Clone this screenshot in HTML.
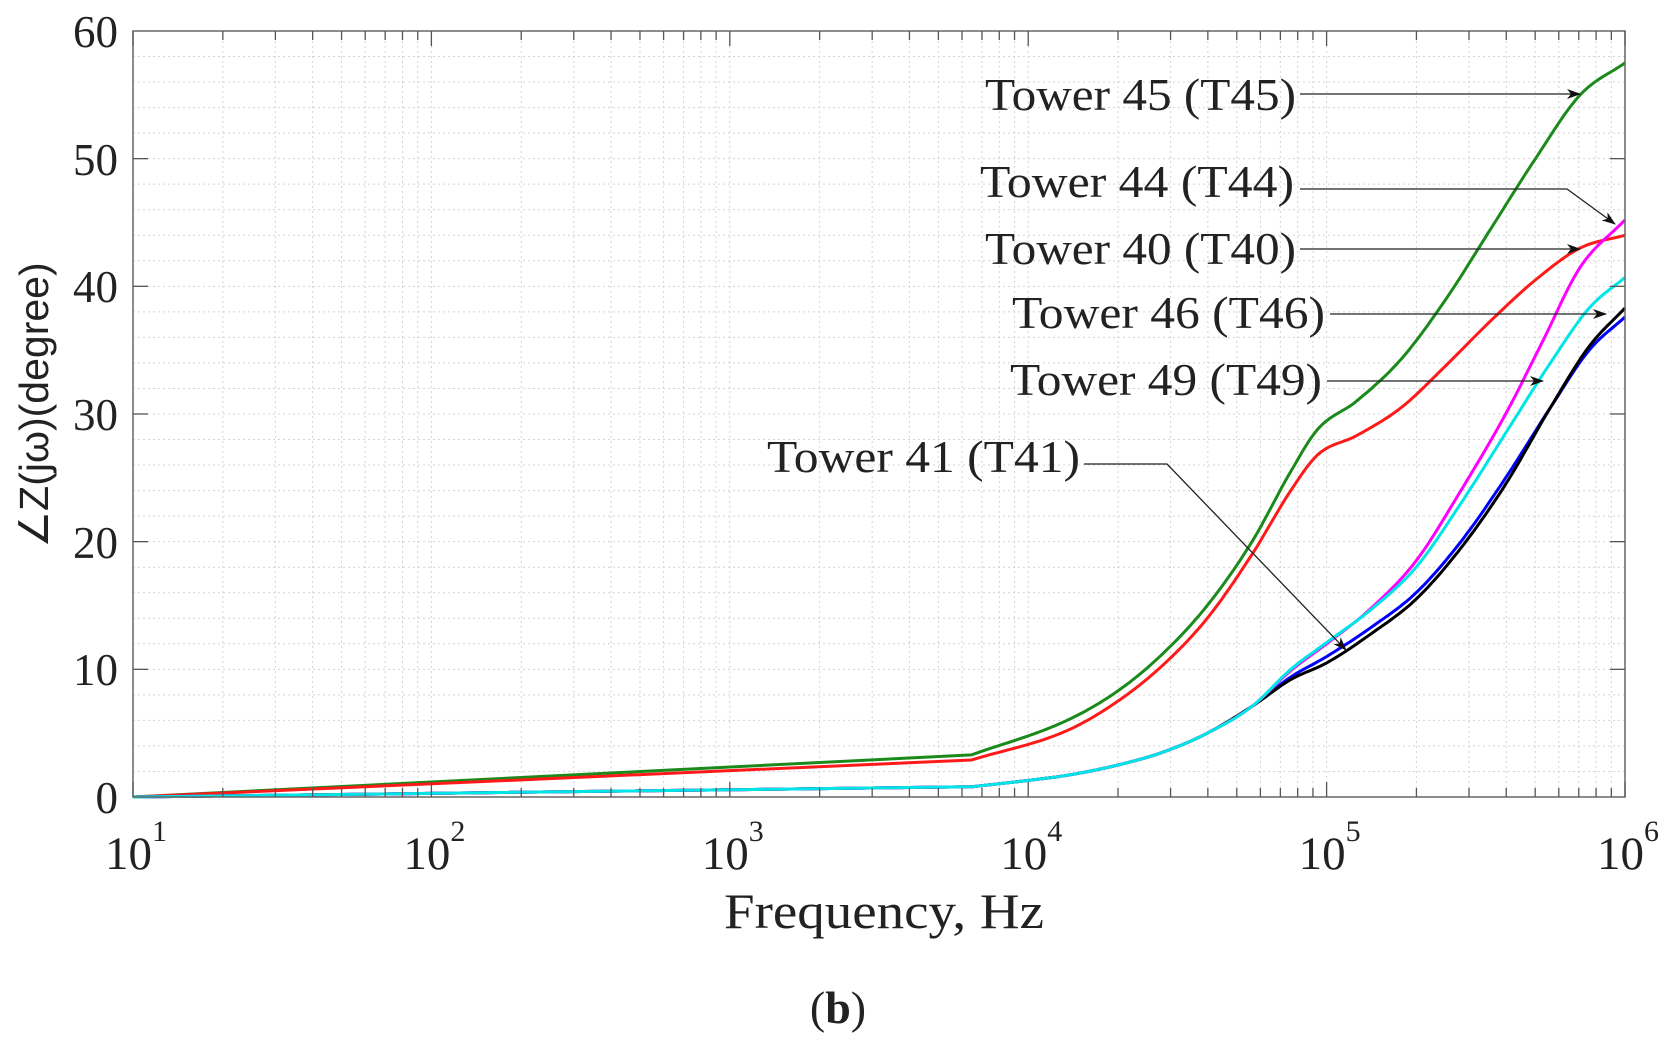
<!DOCTYPE html>
<html><head><meta charset="utf-8"><style>
html,body{margin:0;padding:0;background:#fff;}
svg{display:block;}
.s{font-family:"Liberation Serif",serif;fill:#222;}
</style></head><body>
<svg id="c" width="1673" height="1046" xmlns="http://www.w3.org/2000/svg">
<defs>
<marker id="ar" markerWidth="14" markerHeight="10" refX="13" refY="5" orient="auto" markerUnits="userSpaceOnUse">
<path d="M0,0 L14,5 L0,10 L4,5 Z" fill="#111"/></marker>
</defs>
<g id="grid"></g>
<g id="curves" fill="none" stroke-width="3"></g>
<rect x="133" y="31" width="1492" height="766" fill="none" stroke="#666" stroke-width="1.5"/>
<g id="ticks" stroke="#555" stroke-width="1.3"></g>
<g class="s" font-size="45" text-anchor="end">
<text x="118" y="47">60</text><text x="118" y="175">50</text><text x="118" y="302">40</text>
<text x="118" y="430">30</text><text x="118" y="558">20</text><text x="118" y="685">10</text>
<text x="118" y="813">0</text>
</g>
<g class="s" font-size="47" id="xl"></g>
<text class="s" x="884" y="928" font-size="50" text-anchor="middle" textLength="320" lengthAdjust="spacingAndGlyphs">Frequency, Hz</text>
<text class="s" x="838" y="1023" font-size="46" text-anchor="middle">(<tspan font-weight="bold">b</tspan>)</text>
<text transform="translate(48,405) rotate(-90)" font-family="'Liberation Sans',sans-serif" font-size="41" fill="#222" text-anchor="middle">∠Z(jω)(degree)</text>
<g stroke="#222" stroke-width="1.3" fill="none" marker-end="url(#ar)">
<polyline points="1300,94 1580,94"/>
<polyline points="1300,189 1567,189 1615,224"/>
<polyline points="1300,249 1580,249"/>
<polyline points="1330,314 1606,314"/>
<polyline points="1327,381 1543,381"/>
<polyline points="1084,464 1167,464 1346,650"/>
</g>
<g class="s" font-size="46">
<text x="985" y="110" textLength="311" lengthAdjust="spacingAndGlyphs">Tower 45 (T45)</text>
<text x="980" y="197" textLength="314" lengthAdjust="spacingAndGlyphs">Tower 44 (T44)</text>
<text x="985" y="264" textLength="311" lengthAdjust="spacingAndGlyphs">Tower 40 (T40)</text>
<text x="1012" y="328" textLength="313" lengthAdjust="spacingAndGlyphs">Tower 46 (T46)</text>
<text x="1010" y="395" textLength="312" lengthAdjust="spacingAndGlyphs">Tower 49 (T49)</text>
<text x="767" y="472" textLength="313" lengthAdjust="spacingAndGlyphs">Tower 41 (T41)</text>
</g>
</svg>
<script>
var NS="http://www.w3.org/2000/svg";
function X(l){return 133+(l-1)*298.4;}
function Y(d){return 797-d*12.767;}
function el(p,t,a){var e=document.createElementNS(NS,t);for(var k in a)e.setAttribute(k,a[k]);p.appendChild(e);return e;}
var g=document.getElementById('grid'),tk=document.getElementById('ticks'),xl=document.getElementById('xl');
for(var d=2;d<60;d+=2){el(g,'line',{x1:133,x2:1625,y1:Y(d),y2:Y(d),stroke:'#d4d4d4','stroke-width':1,'stroke-dasharray':'2,3'});}
for(var d=10;d<60;d+=10){el(tk,'line',{x1:133,x2:148,y1:Y(d),y2:Y(d)});el(tk,'line',{x1:1610,x2:1625,y1:Y(d),y2:Y(d)});}
for(var e=1;e<=6;e++){for(var m=1;m<10;m++){if(e==6&&m>1)break;var x=X(e+Math.log10(m));
 if(!(m==1&&(e==1||e==6)))el(g,'line',{x1:x,x2:x,y1:31,y2:797,stroke:'#d4d4d4','stroke-width':1,'stroke-dasharray':'2,3'});
 var L=m==1?15:9;el(tk,'line',{x1:x,x2:x,y1:797,y2:797-L});el(tk,'line',{x1:x,x2:x,y1:31,y2:31+L});}
 var t=el(xl,'text',{x:X(e)-28,y:869});t.textContent='10';var s=el(xl,'text',{x:X(e)+19,y:841,'font-size':30});s.textContent=''+e;}
function mono(P){var n=P.length,dx=[],m=[],t=[];for(var i=0;i<n-1;i++){dx[i]=P[i+1][0]-P[i][0];m[i]=(P[i+1][1]-P[i][1])/dx[i];}
 t[0]=m[0];t[n-1]=m[n-2];for(var i=1;i<n-1;i++){t[i]=(m[i-1]*m[i]<=0)?0:(m[i-1]+m[i])/2;}
 for(var i=0;i<n-1;i++){if(m[i]==0){t[i]=t[i+1]=0;continue;}var a=t[i]/m[i],b=t[i+1]/m[i],h=a*a+b*b;if(h>9){var k=3/Math.sqrt(h);t[i]=k*a*m[i];t[i+1]=k*b*m[i];}}
 return function(x){var i=0;while(i<n-2&&x>P[i+1][0])i++;var h=dx[i],u=(x-P[i][0])/h,u2=u*u,u3=u2*u;
  return (2*u3-3*u2+1)*P[i][1]+(u3-2*u2+u)*h*t[i]+(-2*u3+3*u2)*P[i+1][1]+(u3-u2)*h*t[i+1];};}
var S=[
['#1a8a1a',3.3,[[3.81,3.3],[4.13,6],[4.3,8.3],[4.45,11.2],[4.6,15],[4.75,20],[4.88,25.5],[4.97,28.8],[5.1,31],[5.25,34.3],[5.4,39],[5.55,44.5],[5.7,50],[5.85,55],[6,57.5]]],
['#ff1a1a',2.9,[[3.81,2.9],[4.13,5.2],[4.3,7.5],[4.45,10.3],[4.6,14],[4.75,19],[4.88,24],[4.97,26.8],[5.1,28.3],[5.25,30.5],[5.4,33.8],[5.55,37.3],[5.7,40.5],[5.85,43],[6,44]]]];
var lowPre=[[3.81,0.8],[4,1.3],[4.13,1.7],[4.3,2.5],[4.45,3.5],[4.6,5],[4.75,7.1]];
var LG=[
['#0000ff',[[4.88,9.4],[5,11],[5.15,13.3],[5.3,16],[5.45,20],[5.6,25],[5.75,30.5],[5.88,35],[6,37.6]]],
['#000',[[4.88,9.2],[5,10.5],[5.15,12.8],[5.3,15.5],[5.45,19.5],[5.6,24.5],[5.75,30.5],[5.88,35.3],[6,38.3]]],
['#ff00ff',[[4.88,9.9],[5,12],[5.15,14.8],[5.3,18.5],[5.45,24],[5.6,30],[5.72,35.5],[5.85,41.5],[6,45.2]]],
['#00e5e5',[[4.88,10],[5,12.1],[5.15,14.7],[5.3,18],[5.45,23],[5.6,28.5],[5.75,34],[5.88,38.3],[6,40.7]]]];
LG.forEach(function(s){S.push([s[0],0.8,lowPre.concat(s[1])]);});
var cg=document.getElementById('curves');
S.forEach(function(s){var f=mono(s[2]);var d='M'+X(1)+','+Y(0)+' L'+X(3.81)+','+Y(s[1]);
 for(var l=3.82;l<=6.0001;l+=0.01){d+=' L'+X(l).toFixed(1)+','+Y(f(l)).toFixed(1);}
 el(cg,'path',{d:d,stroke:s[0],'stroke-linejoin':'round'});});
</script>
</body></html>
